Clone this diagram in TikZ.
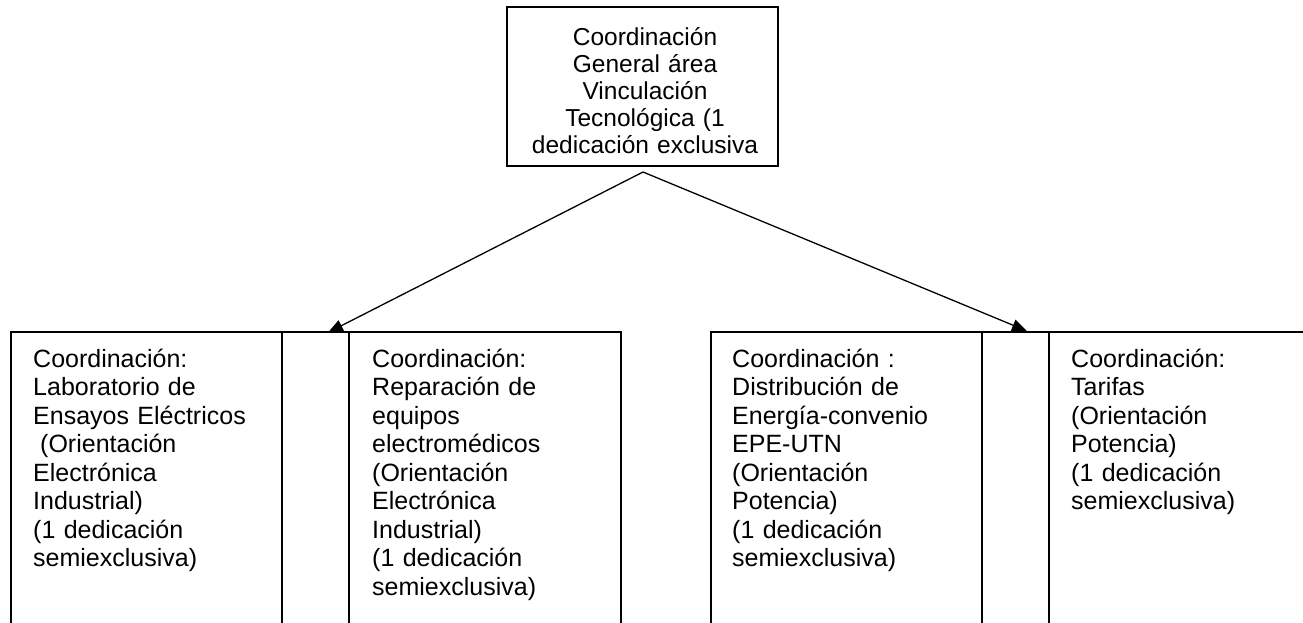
\documentclass[tikz,border=0pt]{standalone}
\usepackage{fontspec}
\setmainfont{Liberation Sans}
\usetikzlibrary{arrows.meta}
\tikzset{
  boxshape/.style={draw=black, line width=1.6pt, rectangle, inner sep=0pt, outer sep=0pt, anchor=north west},
  lowtext/.style={anchor=base west, inner sep=0pt, text width=250pt, align=left, font=\fontsize{25}{28.5}\selectfont},
  toptext/.style={anchor=base, inner sep=0pt, text width=265pt, align=center, font=\fontsize{24.5}{27.1}\selectfont},
  link/.style={line width=1.3pt, -{Triangle[length=15pt,width=12pt]}}
}
\begin{document}
\begin{tikzpicture}[x=1pt,y=-1pt]
\useasboundingbox (0,0) rectangle (1303,622);
\clip (0,0) rectangle (1303,622);
\fill[white] (0,0) rectangle (1303,622);
% top box
\node[boxshape, minimum width=271pt, minimum height=159pt] (top) at (507,7) {};
\node[toptext] (toptxt) at (645,45) {Coordinación\\General área\\Vinculación\\Tecnológica (1\\dedicación exclusiva};
% bottom boxes (open at the bottom edge)
\node[boxshape, minimum width=271pt, minimum height=320pt] (b1) at (11,332) {};
\node[boxshape, minimum width=67pt, minimum height=320pt] (b2) at (282,332) {};
\node[boxshape, minimum width=272pt, minimum height=320pt] (b3) at (349,332) {};
\node[boxshape, minimum width=271pt, minimum height=320pt] (b4) at (711,332) {};
\node[boxshape, minimum width=67pt, minimum height=320pt] (b5) at (982,332) {};
\node[boxshape, minimum width=271pt, minimum height=320pt] (b6) at (1049,332) {};
% texts
\node[lowtext] (t1) at (33,367) {Coordinación:\\Laboratorio de\\Ensayos Eléctricos\\\hspace*{7pt}(Orientación\\Electrónica\\Industrial)\\(1 dedicación\\semiexclusiva)};
\node[lowtext] (t3) at (372,367) {Coordinación:\\Reparación de\\equipos\\electromédicos\\(Orientación\\Electrónica\\Industrial)\\(1 dedicación\\semiexclusiva)};
\node[lowtext] (t4) at (732,367) {Coordinación :\\Distribución de\\Energía-convenio\\EPE-UTN\\(Orientación\\Potencia)\\(1 dedicación\\semiexclusiva)};
\node[lowtext] (t6) at (1071,367) {Coordinación:\\Tarifas\\(Orientación\\Potencia)\\(1 dedicación\\semiexclusiva)};
% connectors
\coordinate (apex) at (643,172);
\coordinate (endL) at (328,332.5);
\coordinate (endR) at (1027,331);
\draw[link] (apex) -- (endL);
\draw[link] (apex) -- (endR);
\end{tikzpicture}
\end{document}
